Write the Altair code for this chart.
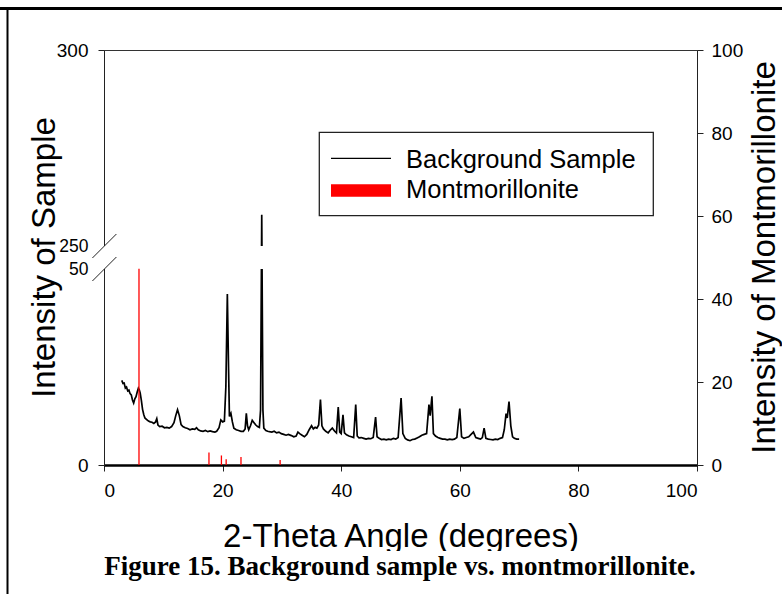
import altair as alt
import pandas as pd

# ---------------- data ----------------
two_theta = [3.0, 3.2, 3.4, 3.6, 3.8, 4.0, 4.2, 4.4, 4.6, 4.8, 5.0, 5.2, 5.4, 5.6, 5.8, 5.95,
             6.1, 6.3, 6.5, 6.7, 6.9, 7.2, 7.5, 7.8, 8.1, 8.4, 8.7, 8.9, 9.1, 9.4, 9.8,
             10.2, 10.6, 11.0, 11.4, 11.8, 12.1, 12.4, 12.7, 13.0, 13.3, 13.7, 14.1, 14.5,
             14.9, 15.3, 15.6, 15.9, 16.3, 16.7, 17.1, 17.5, 17.9, 18.3, 18.7, 19.0, 19.4,
             19.7, 20.0, 20.3, 20.55, 20.8, 21.0, 21.15, 21.4, 21.65, 21.9, 22.3, 22.7,
             23.1, 23.5, 23.8, 24.0, 24.2, 24.4, 24.7, 25.0, 25.3, 25.6, 25.9, 26.2, 26.4,
             26.6, 26.8, 26.95, 27.3, 27.6, 27.9, 28.3, 28.7, 29.1, 29.5, 29.9, 30.3, 30.7,
             31.1, 31.6, 32.0, 32.4, 32.7, 33.0, 33.4, 33.8, 34.2, 34.6, 35.0, 35.3, 35.6,
             35.9, 36.2, 36.5, 36.75, 37.0, 37.4, 37.8, 38.1, 38.5, 38.9, 39.2, 39.5, 39.75,
             40.0, 40.3, 40.55, 40.9, 41.3, 41.7, 42.1, 42.45, 42.7, 43.0, 43.4, 43.8, 44.2,
             44.6, 45.0, 45.4, 45.8, 46.05, 46.4, 46.8, 47.2, 47.6, 48.0, 48.4, 48.8, 49.2,
             49.6, 50.1, 50.4, 50.8, 51.2, 51.6, 52.0, 52.4, 52.8, 53.2, 53.6, 54.0, 54.4,
             54.8, 55.0, 55.3, 55.55, 55.9, 56.3, 56.7, 57.1, 57.5, 57.9, 58.3, 58.7, 59.1,
             59.5, 60.0, 60.3, 60.7, 61.1, 61.5, 61.9, 62.3, 62.7, 63.1, 63.5, 63.8, 64.1,
             64.4, 64.8, 65.2, 65.6, 66.0, 66.4, 66.8, 67.2, 67.5, 67.8, 68.0, 68.3, 68.6,
             68.9, 69.2, 69.6, 70.0]
sample_intensity = [21.6, 20.8, 20.9, 19.6, 19.9, 18.9, 19.1, 18.2, 17.9, 16.6, 15.8, 16.9, 17.4, 18.6, 19.6, 19.2,
                    18.4, 16.5, 14.2, 12.9, 12.0, 11.6, 11.2, 11.0, 10.9, 10.6, 11.0, 11.8, 10.2, 9.8, 9.9,
                    9.5, 9.6, 9.4, 9.8, 10.8, 12.6, 14.1, 12.6, 10.3, 9.8, 9.5, 9.3, 9.0,
                    9.2, 9.1, 9.5, 9.0, 8.7, 8.6, 8.8, 8.5, 8.7, 8.5, 8.4, 8.6, 9.5,
                    11.5, 11.0, 11.2, 20.0, 43.6, 25.0, 12.4, 13.2, 11.0, 9.4, 9.0, 8.8,
                    8.6, 8.6, 9.2, 13.2, 10.0, 9.0, 10.0, 11.4, 10.8, 10.2, 9.8, 9.6, 14.0,
                    258.0, 14.0, 9.4, 8.8, 8.6, 8.5, 8.4, 8.6, 8.2, 8.4, 8.0, 7.8, 7.6,
                    7.8, 7.5, 7.2, 7.4, 8.4, 8.0, 7.6, 7.2, 7.8, 9.0, 10.0, 9.2, 9.6,
                    9.4, 10.2, 16.7, 10.0, 9.2, 8.6, 8.2, 8.8, 9.4, 8.6, 8.2, 14.8, 8.4,
                    8.0, 12.8, 8.2, 7.7, 7.4, 7.2, 7.0, 15.4, 7.4, 6.9, 7.0, 6.8, 6.6,
                    6.8, 6.7, 7.0, 12.2, 7.2, 6.8, 6.5, 6.6, 6.4, 6.6, 6.5, 6.8, 6.6,
                    7.0, 17.1, 8.0, 6.8, 6.4, 6.2, 6.5, 6.6, 6.9, 7.2, 7.6, 7.8, 8.0,
                    15.4, 12.6, 17.5, 8.0, 7.4, 7.0, 6.8, 6.6, 6.6, 6.4, 6.6, 6.5, 6.6,
                    7.0, 14.4, 7.2, 6.8, 7.0, 7.2, 7.8, 8.4, 7.0, 6.8, 6.6, 7.0, 9.4,
                    6.8, 6.6, 6.5, 6.4, 6.6, 6.5, 6.8, 7.0, 9.0, 13.1, 12.0, 16.2, 10.0,
                    7.2, 6.8, 6.6, 6.6]
mont_angle = [5.9, 17.7, 19.8, 20.6, 23.1, 29.7]
mont_intensity = [47.3, 3.0, 2.3, 1.4, 1.9, 1.2]

series_names = ["Background Sample", "Montmorillonite"]
series_colors = ["black", "#ff0000"]
x_ticks = [0, 20, 40, 60, 80, 100]
left_ticks = [0, 50, 250, 300]
right_ticks = [0, 20, 40, 60, 80, 100]
break_lo, break_hi = 50, 250
x_title = "2-Theta Angle (degrees)"
left_title = "Intensity of Sample"
right_title = "Intensity of Montmorillonite"
caption = "Figure 15. Background sample vs. montmorillonite."

# ---------------- layout ----------------
W, H = 593, 415
FONT = "Liberation Sans"

sample_df = pd.DataFrame({"angle": two_theta, "intensity": sample_intensity})
mont_df = pd.DataFrame({"angle": mont_angle, "intensity": mont_intensity})
break_df = pd.DataFrame({"intensity": [break_lo], "hi": [break_hi]})
slash_df = pd.DataFrame({"intensity": [break_lo, break_hi]})
one = pd.DataFrame({"k": [0]})

x_scale = alt.Scale(domain=[0, 100], nice=False, zero=False)
y_left_scale = alt.Scale(domain=[0, break_lo, break_hi, 300],
                         range=[H, H - 196, H - 219, 0], nice=False, zero=False)
y_right_scale = alt.Scale(domain=[0, 100], nice=False, zero=False)

is_break = "datum.value == 50 || datum.value == 250"

x_axis = alt.Axis(values=x_ticks, title=x_title, orient="bottom",
                  domainColor="black", domainWidth=2.5, tickColor="#222", tickSize=6,
                  labelFontSize=19, labelPadding=10, labelFont=FONT, labelColor="black",
                  titleFont=FONT, titleFontSize=33, titleFontWeight="normal", titleColor="black",
                  titleBaseline="alphabetic", titleY=81)

left_axis = alt.Axis(values=left_ticks, title=left_title, orient="left",
                     domainColor="#222", domainWidth=1, tickColor="#222", tickSize=6,
                     tickOpacity={"condition": {"test": is_break, "value": 0}, "value": 1},
                     labelFontSize={"condition": {"test": is_break, "value": 17.5}, "value": 19},
                     labelPadding=10, labelFont=FONT, labelColor="black",
                     titleFont=FONT, titleFontSize=33, titleFontWeight="normal", titleColor="black",
                     titleAngle=270, titleX=-50, titleY=207, titleAlign="center",
                     titleBaseline="alphabetic")

right_axis = alt.Axis(values=right_ticks, title=right_title, orient="right",
                      domainColor="#222", domainWidth=1, tickColor="#222", tickSize=6,
                      labelFontSize=19, labelPadding=8, labelFont=FONT, labelColor="black",
                      titleFont=FONT, titleFontSize=33, titleFontWeight="normal", titleColor="black",
                      titleAngle=270, titleX=77, titleY=207, titleAlign="center",
                      titleBaseline="alphabetic")

# ----- left (sample) group -----
sample_line = alt.Chart(sample_df).mark_line(color=series_colors[0], strokeWidth=1.7).encode(
    x=alt.X("angle:Q", scale=x_scale, axis=x_axis),
    y=alt.Y("intensity:Q", scale=y_left_scale, axis=left_axis),
)
mask = alt.Chart(break_df).mark_rect(fill="white", stroke=None).encode(
    x=alt.value(-4), x2=alt.value(W - 3),
    y=alt.Y("intensity:Q", scale=y_left_scale, axis=left_axis), y2=alt.Y2("hi"),
)
slashes = alt.Chart(slash_df).mark_rule(color="#222", strokeWidth=1,
                                        xOffset=-11.6, x2Offset=12.4,
                                        yOffset=12, y2Offset=-12).encode(
    x=alt.value(0), x2=alt.value(0),
    y=alt.Y("intensity:Q", scale=y_left_scale, axis=left_axis), y2=alt.Y2("intensity"),
)
left_group = alt.layer(sample_line, mask, slashes)

# ----- right (montmorillonite) group -----
mont_rules = alt.Chart(mont_df).mark_rule(color=series_colors[1], strokeWidth=1.3).encode(
    x=alt.X("angle:Q", scale=x_scale, axis=x_axis),
    y=alt.Y("intensity:Q", scale=y_right_scale, axis=right_axis),
    y2=alt.datum(0),
)

# ----- legend (drawn) -----
leg_box = alt.Chart(one).mark_rect(fill="white", stroke="#222", strokeWidth=1.3).encode(
    x=alt.value(215.3), x2=alt.value(549.3), y=alt.value(82.3), y2=alt.value(165.7))
leg_line = alt.Chart(one).mark_rule(color=series_colors[0], strokeWidth=1.2).encode(
    x=alt.value(227), x2=alt.value(287), y=alt.value(108.3))
leg_rect = alt.Chart(one).mark_rect(fill=series_colors[1]).encode(
    x=alt.value(227), x2=alt.value(287), y=alt.value(134.3), y2=alt.value(146.7))
leg_t1 = alt.Chart(pd.DataFrame({"t": [series_names[0]]})).mark_text(
    font=FONT, fontSize=25.5, align="left", baseline="alphabetic", color="black").encode(
    text="t:N", x=alt.value(302), y=alt.value(118.3))
leg_t2 = alt.Chart(pd.DataFrame({"t": [series_names[1]]})).mark_text(
    font=FONT, fontSize=25.5, align="left", baseline="alphabetic", color="black").encode(
    text="t:N", x=alt.value(302), y=alt.value(147.7))

# ----- page decorations: caption and border lines -----
cap_mask = alt.Chart(one).mark_rect(fill="white").encode(
    x=alt.value(-20), x2=alt.value(W + 20), y=alt.value(501), y2=alt.value(544))
cap_text = alt.Chart(pd.DataFrame({"t": [caption]})).mark_text(
    font="Liberation Serif", fontWeight="bold", fontSize=27, align="center",
    baseline="alphabetic", color="black").encode(
    text="t:N", x=alt.value(296), y=alt.value(525))
top_border = alt.Chart(one).mark_rule(color="black", strokeWidth=3).encode(
    x=alt.value(-104), x2=alt.value(678), y=alt.value(-41.5))
left_border = alt.Chart(one).mark_rule(color="black", strokeWidth=2).encode(
    x=alt.value(-96.5), y=alt.value(-43), y2=alt.value(544))

deco = alt.layer(leg_box, leg_line, leg_rect, leg_t1, leg_t2,
                 cap_mask, cap_text, top_border, left_border)

chart = alt.layer(left_group, mont_rules, deco).resolve_scale(
    y="independent"
).properties(
    width=W, height=H,
    autosize=alt.AutoSizeParams(type="none"),
    padding={"left": 104, "top": 50, "right": 85, "bottom": 129},
    background="white",
).configure_axis(grid=False).configure_view(stroke="#333", strokeWidth=1)

chart.save("out.html", embed_options={"renderer": "svg", "actions": False})
